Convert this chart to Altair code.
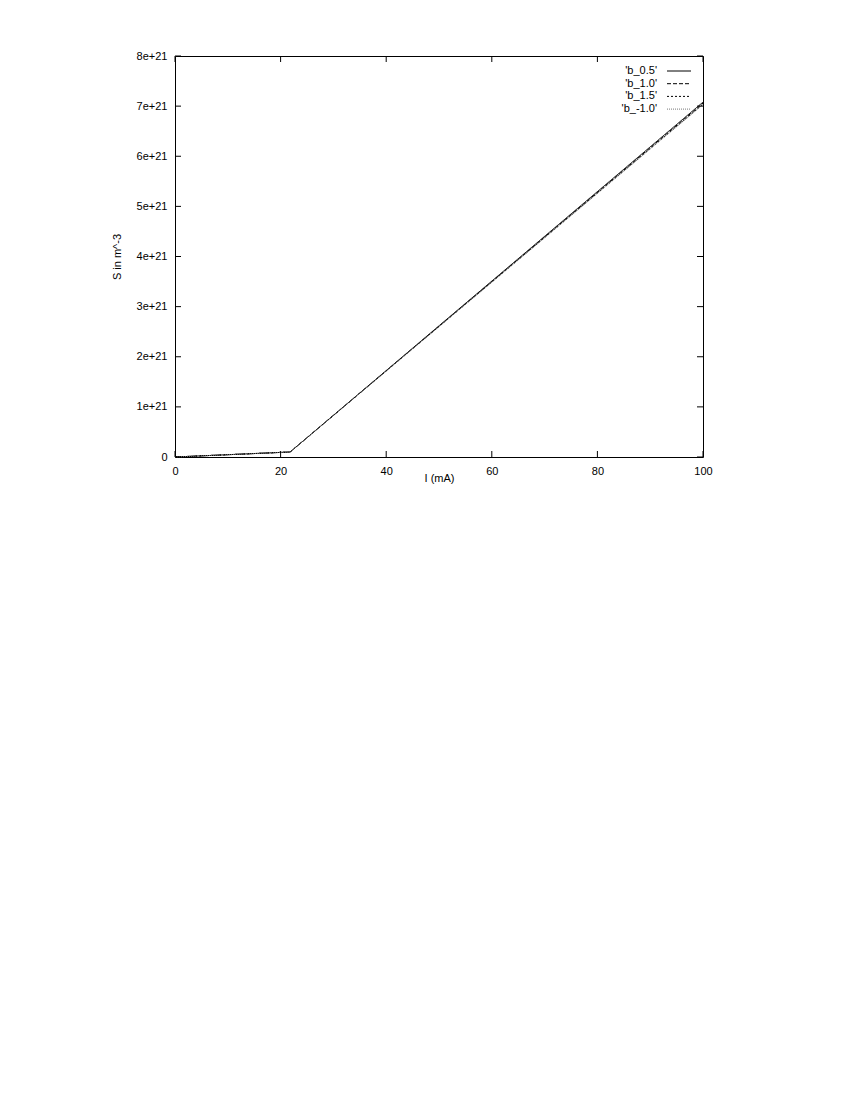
import altair as alt
import pandas as pd

# Data
current_mA = [0, 21.8, 100]
series_names = ["'b_0.5'", "'b_1.0'", "'b_1.5'", "'b_-1.0'"]
s_b05 = [0.0, 1.0e20, 7.08e21]
s_b10 = [0.0, 1.0e20, 7.06e21]
s_b15 = [0.0, 1.0e20, 7.04e21]
s_bm10 = [0.0, 1.0e20, 7.03e21]
x_ticks = [0, 20, 40, 60, 80, 100]
y_ticks = [0, 1e21, 2e21, 3e21, 4e21, 5e21, 6e21, 7e21, 8e21]

W, H = 528, 401
rows = []
for name, vals in zip(series_names, [s_b05, s_b10, s_b15, s_bm10]):
    for x, y in zip(current_mA, vals):
        rows.append({"series": name, "I": x, "S": y})
df = pd.DataFrame(rows)

dashes = {"'b_0.5'": [1, 0], "'b_1.0'": [4, 2], "'b_1.5'": [2, 2], "'b_-1.0'": [1, 1]}
colors = {"'b_0.5'": "#000000", "'b_1.0'": "#000000", "'b_1.5'": "#000000", "'b_-1.0'": "#777777"}

font = "Liberation Sans"
xs = alt.Scale(domain=[0, 100], nice=False)
ys = alt.Scale(domain=[0, 8e21], nice=False)

layers = []
for name in series_names:
    layers.append(
        alt.Chart(df[df.series == name]).mark_line(
            color=colors[name], strokeDash=dashes[name], strokeWidth=1
        ).encode(
            x=alt.X("I:Q", scale=xs, axis=alt.Axis(
                title="I (mA)", values=x_ticks, ticks=False, domain=False, grid=False,
                labelFlush=False, labelOverlap=False,
                labelPadding=8, labelFont=font, labelFontSize=11, labelColor="black",
                titleFont=font, titleFontSize=11, titleFontWeight="normal",
                titlePadding=-4, titleColor="black")),
            y=alt.Y("S:Q", scale=ys, axis=alt.Axis(
                title="S in m^-3", values=y_ticks, ticks=False, domain=False, grid=False,
                labelFlush=False, labelOverlap=False,
                labelExpr="datum.value == 0 ? '0' : round(datum.value/1e21) + 'e+21'",
                labelPadding=8, labelFont=font, labelFontSize=11, labelColor="black",
                titleFont=font, titleFontSize=11, titleFontWeight="normal",
                titlePadding=14, titleColor="black")),
        )
    )

xt = pd.DataFrame({"v": x_ticks})
yt = pd.DataFrame({"v": y_ticks})
tick_layers = [
    alt.Chart(xt).mark_rule(color="black").encode(x=alt.X("v:Q", scale=xs), y=alt.value(H), y2=alt.value(H - 6)),
    alt.Chart(xt).mark_rule(color="black").encode(x=alt.X("v:Q", scale=xs), y=alt.value(0), y2=alt.value(6)),
    alt.Chart(yt).mark_rule(color="black").encode(y=alt.Y("v:Q", scale=ys), x=alt.value(0), x2=alt.value(6)),
    alt.Chart(yt).mark_rule(color="black").encode(y=alt.Y("v:Q", scale=ys), x=alt.value(W), x2=alt.value(W - 6)),
]

leg = pd.DataFrame({"series": series_names})
legend_layers = []
for i, name in enumerate(series_names):
    sub = leg[leg.series == name]
    legend_layers.append(
        alt.Chart(sub).mark_text(align="right", baseline="middle", font=font, fontSize=11, color="black").encode(
            x=alt.value(482), y=alt.value(15 + i * 12.7), text="series:N")
    )
    legend_layers.append(
        alt.Chart(sub).mark_rule(color=colors[name], strokeDash=dashes[name], strokeWidth=1).encode(
            x=alt.value(492), x2=alt.value(516), y=alt.value(15 + i * 12.7))
    )

chart = alt.layer(*layers, *tick_layers, *legend_layers).properties(
    width=W, height=H,
    autosize=alt.AutoSizeParams(type="none"),
    padding={"left": 167, "top": 48, "right": 20, "bottom": 60},
).configure_view(stroke="black", strokeWidth=1)

chart.save("out.html", embed_options={"renderer": "svg", "actions": False})
